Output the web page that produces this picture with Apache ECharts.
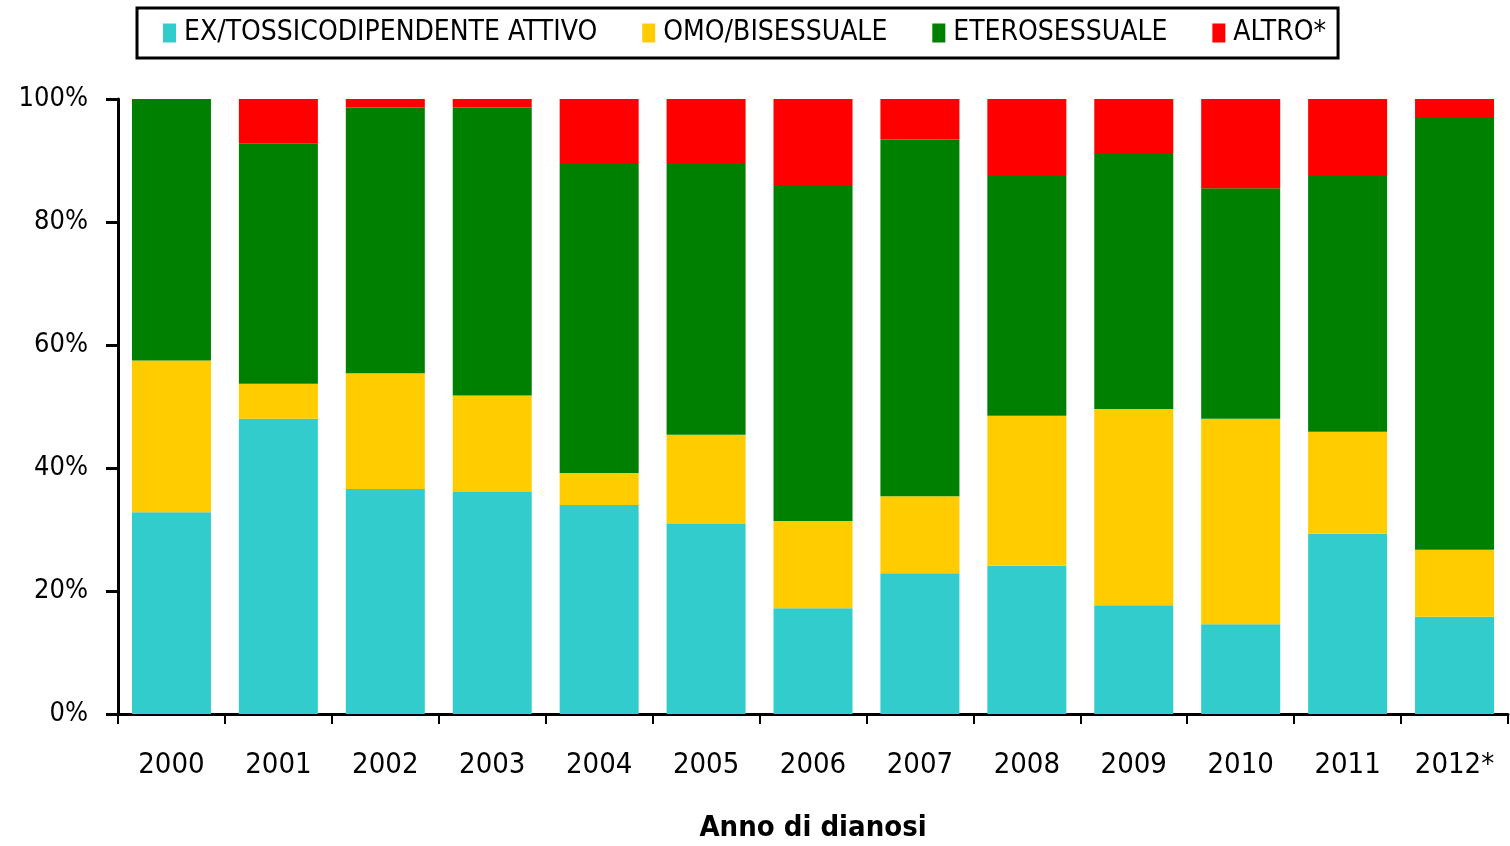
<!DOCTYPE html>
<html>
<head>
<meta charset="utf-8">
<script src="https://cdn.jsdelivr.net/npm/echarts@6/dist/echarts.min.js"></script>
<style>
html,body{margin:0;padding:0;background:#fff;}
#chart{width:1510px;height:846px;}
</style>
</head>
<body>
<div id="chart"></div>
<script>
const categories = ['2000','2001','2002','2003','2004','2005','2006','2007','2008','2009','2010','2011','2012*'];
const seriesNames = ['EX/TOSSICODIPENDENTE ATTIVO','OMO/BISESSUALE','ETEROSESSUALE','ALTRO*'];
const exTossico = [32.8, 48.0, 36.6, 36.1, 34.0, 30.9, 17.2, 22.9, 24.1, 17.7, 14.6, 29.3, 15.8];
const omoBisex  = [24.7, 5.7, 18.8, 15.7, 5.2, 14.5, 14.2, 12.5, 24.4, 31.9, 33.4, 16.6, 10.9];
const etero     = [42.5, 39.1, 43.2, 46.8, 50.4, 44.2, 54.6, 58.0, 39.0, 41.6, 37.5, 41.6, 70.2];
const altro     = [0, 7.2, 1.4, 1.4, 10.4, 10.4, 14.0, 6.6, 12.5, 8.8, 14.5, 12.5, 3.1];
const yTicks = [0, 20, 40, 60, 80, 100];
const colors = ['#33CCCC', '#FFCC00', '#008000', '#FF0000'];
const dataSets = [exTossico, omoBisex, etero, altro];

const narrow = '"DejaVu Sans Condensed", "Liberation Sans", sans-serif';
const chart = echarts.init(document.getElementById('chart'), null, {renderer: 'canvas'});
chart.setOption({
  animation: false,
  backgroundColor: '#fff',
  legend: {
    left: 137, top: 8,
    width: 1250,
    padding: [11, 12, 11, 26],
    borderColor: '#000', borderWidth: 3,
    itemWidth: 13, itemHeight: 19, itemGap: 45,
    icon: 'rect',
    textStyle: {fontFamily: narrow, fontSize: 28, color: '#000', padding: [0,0,0,3]},
    data: seriesNames
  },
  grid: {left: 118, right: 2, top: 99, bottom: 132, containLabel: false, outerBoundsMode: 'none'},
  xAxis: {
    type: 'category',
    data: categories,
    boundaryGap: true,
    axisLine: {lineStyle: {color: '#000', width: 3}},
    axisTick: {show: true, alignWithLabel: false, length: 10, lineStyle: {color: '#000', width: 2}},
    axisLabel: {color: '#000', fontFamily: narrow, fontSize: 29, margin: 37, interval: 0},
    name: 'Anno di dianosi',
    nameLocation: 'middle',
    nameGap: 100,
    nameTextStyle: {color: '#000', fontFamily: narrow, fontSize: 29, fontWeight: 'bold'}
  },
  yAxis: {
    type: 'value',
    min: 0, max: 100, interval: 20,
    axisLine: {show: true, lineStyle: {color: '#000', width: 3}},
    axisTick: {show: true, inside: false, length: 12, lineStyle: {color: '#000', width: 3}},
    splitLine: {show: false},
    axisLabel: {color: '#000', fontFamily: narrow, fontSize: 27, margin: 30,
      formatter: v => yTicks.includes(v) ? v + '%' : ''}
  },
  series: dataSets.map((d, i) => ({
    name: seriesNames[i],
    type: 'bar',
    stack: 'total',
    data: d,
    barWidth: 79,
    itemStyle: {color: colors[i]}
  }))
});
</script>
</body>
</html>
